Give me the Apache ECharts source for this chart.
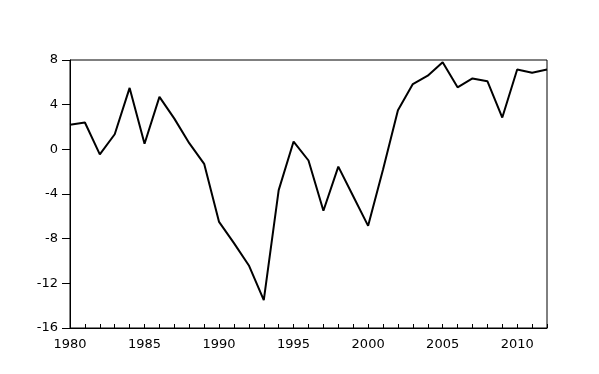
<!DOCTYPE html>
<html>
<head>
<meta charset="utf-8">
<script src="https://cdn.jsdelivr.net/npm/echarts@6/dist/echarts.min.js"></script>
<style>html,body{margin:0;padding:0;background:#fff;}#c{width:599px;height:374px;}</style>
</head>
<body>
<div id="c"></div>
<script>
var years = [];
for (var y = 1980; y <= 2012; y++) years.push(String(y));
var values = [2.2, 2.4, -0.45, 1.35, 5.5, 0.5, 4.7, 2.75, 0.55, -1.3,
  -6.5, -8.4, -10.4, -13.5, -3.65, 0.7, -1.0, -5.5, -1.55, -4.2,
  -6.85, -1.8, 3.5, 5.85, 6.6, 7.8, 5.55, 6.35, 6.1, 2.85,
  7.15, 6.85, 7.15];
var yMin = -16, yMax = 8, yStep = 4;

var chart = echarts.init(document.getElementById('c'), null, {renderer: 'canvas'});
var font = 'DejaVu Sans';
chart.setOption({
  animation: false,
  backgroundColor: '#fff',
  grid: {left: 70, right: 52, top: 60, bottom: 46, show: true, borderColor: '#000', borderWidth: 1},
  xAxis: {
    type: 'category', data: years, boundaryGap: false,
    axisLine: {onZero: false, lineStyle: {color: '#000', width: 1}},
    axisTick: {show: true, inside: true, length: 4, interval: 0, lineStyle: {color: '#000'}},
    axisLabel: {interval: 4, color: '#000', fontFamily: font, fontSize: 13, margin: 10},
    splitLine: {show: false}
  },
  yAxis: {
    type: 'value', min: yMin, max: yMax, interval: yStep,
    axisLine: {show: true, lineStyle: {color: '#000', width: 1}},
    axisTick: {show: true, inside: false, length: 8, lineStyle: {color: '#000'}},
    axisLabel: {color: '#000', fontFamily: font, fontSize: 13, margin: 12},
    splitLine: {show: false}
  },
  series: [{
    type: 'line', data: values, showSymbol: false, symbol: 'none',
    lineStyle: {color: '#000', width: 2}
  }]
});
</script>
</body>
</html>
